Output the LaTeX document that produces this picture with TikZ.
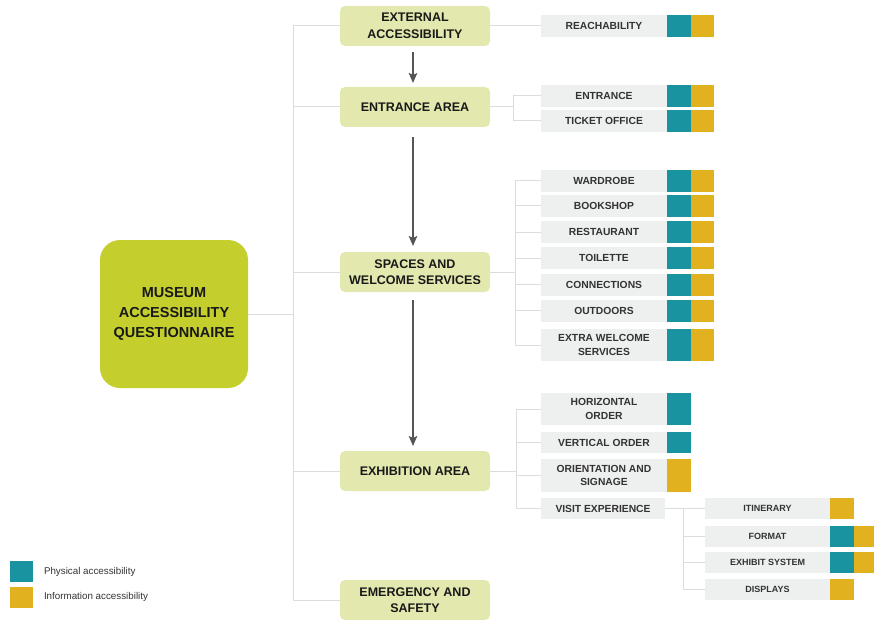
\documentclass[tikz,border=0pt]{standalone}
\usepackage{fontspec}
\setmainfont{Liberation Sans}
\usetikzlibrary{arrows.meta}
\definecolor{mainlime}{HTML}{C4CF2E}
\definecolor{lightlime}{HTML}{E3E9AE}
\definecolor{leafgrey}{HTML}{EEEFEF}
\definecolor{physc}{HTML}{1A93A0}
\definecolor{infoc}{HTML}{E2B11F}
\definecolor{linegrey}{HTML}{DCDCDC}
\definecolor{textgrey}{HTML}{333333}
\definecolor{arrowgrey}{HTML}{555555}
\begin{document}
\begin{tikzpicture}[x=1pt,y=-1pt,
  every node/.style={outer sep=0pt},
  mainbox/.style={fill=mainlime, rounded corners=20pt, minimum width=148pt, minimum height=148pt,
    inner sep=0pt, align=center, text=black!90, font=\fontsize{14.5}{20}\selectfont\bfseries},
  secbox/.style={fill=lightlime, rounded corners=5pt, minimum width=150pt, minimum height=40pt,
    inner sep=0pt, align=center, text=black!90, font=\fontsize{12.5}{16.5}\selectfont\bfseries},
  leaf/.style={fill=leafgrey, minimum width=126pt, inner sep=0pt, align=center, text=textgrey,
    font=\fontsize{10.3}{13.5}\selectfont\bfseries},
  subleaf/.style={fill=leafgrey, minimum width=125pt, inner sep=0pt, align=center, text=textgrey,
    font=\fontsize{9}{11}\selectfont\bfseries},
  physsq/.style={fill=physc, minimum width=23.5pt, inner sep=0pt, anchor=north west},
  infosq/.style={fill=infoc, minimum width=23.5pt, inner sep=0pt, anchor=north west},
  conn/.style={draw=linegrey, line width=1pt},
  arr/.style={draw=arrowgrey, line width=1.8pt, -{Stealth[length=10pt,width=8.5pt,inset=2pt]}},
  legtext/.style={anchor=west, text=textgrey, font=\fontsize{9.8}{12}\selectfont, inner sep=0pt}
]
\path[use as bounding box] (0,0) rectangle (874,620);

% main and second level
\node[mainbox] (q) at (174,314) {MUSEUM\\ACCESSIBILITY\\QUESTIONNAIRE};
\node[secbox] (ext) at (415,26) {EXTERNAL\\ACCESSIBILITY};
\node[secbox] (ent) at (415,107) {ENTRANCE AREA};
\node[secbox] (spa) at (415,272) {SPACES AND\\WELCOME SERVICES};
\node[secbox] (exh) at (415,471) {EXHIBITION AREA};
\node[secbox] (eme) at (415,600) {EMERGENCY AND\\SAFETY};

% leaves
\node[leaf, minimum height=22pt] (reach) at (604,26) {REACHABILITY};
\node[leaf, minimum height=22pt] (entr) at (604,96) {ENTRANCE};
\node[leaf, minimum height=22pt] (tick) at (604,121) {TICKET OFFICE};
\node[leaf, minimum height=22pt] (ward) at (604,181) {WARDROBE};
\node[leaf, minimum height=22pt] (book) at (604,206) {BOOKSHOP};
\node[leaf, minimum height=22pt] (rest) at (604,232) {RESTAURANT};
\node[leaf, minimum height=22pt] (toil) at (604,258) {TOILETTE};
\node[leaf, minimum height=22pt] (conx) at (604,284.5) {CONNECTIONS};
\node[leaf, minimum height=22pt] (outd) at (604,310.5) {OUTDOORS};
\node[leaf, minimum height=32pt] (extra) at (604,345) {EXTRA WELCOME\\SERVICES};
\node[leaf, minimum height=32pt] (hor) at (604,409) {HORIZONTAL\\ORDER};
\node[leaf, minimum height=21pt] (ver) at (604,442.5) {VERTICAL ORDER};
\node[leaf, minimum height=33pt] (ori) at (604,475.5) {ORIENTATION AND\\SIGNAGE};
\node[leaf, minimum height=21pt, minimum width=124pt] (visit) at (603,508.5) {VISIT EXPERIENCE};

\node[subleaf, minimum height=21pt] (itin) at (767.5,508.5) {ITINERARY};
\node[subleaf, minimum height=21pt] (form) at (767.5,536) {FORMAT};
\node[subleaf, minimum height=21pt] (exhs) at (767.5,562.5) {EXHIBIT SYSTEM};
\node[subleaf, minimum height=21pt] (disp) at (767.5,589.5) {DISPLAYS};

% colour squares
\foreach \n/\h in {reach/22,entr/22,tick/22,ward/22,book/22,rest/22,toil/22,conx/22,outd/22,extra/32}{
  \node[physsq, minimum height=\h pt] (\n-p) at (\n.north east) {};
  \node[infosq, minimum height=\h pt] (\n-i) at (\n-p.north east) {};
}
\node[physsq, minimum height=32pt] (hor-p) at (hor.north east) {};
\node[physsq, minimum height=21pt] (ver-p) at (ver.north east) {};
\node[infosq, minimum height=33pt] (ori-i) at (ori.north east) {};
\node[infosq, minimum height=21pt] (itin-i) at (itin.north east) {};
\node[physsq, minimum height=21pt] (form-p) at (form.north east) {};
\node[infosq, minimum height=21pt] (form-i) at (form-p.north east) {};
\node[physsq, minimum height=21pt] (exhs-p) at (exhs.north east) {};
\node[infosq, minimum height=21pt] (exhs-i) at (exhs-p.north east) {};
\node[infosq, minimum height=21pt] (disp-i) at (disp.north east) {};

% trunk
\coordinate (tr) at (293,0);
\draw[conn] (q.east) -- (q.east -| tr);
\draw[conn] (ext.west) -- (ext.west -| tr) -- (eme.west -| tr) -- (eme.west);
\draw[conn] (ent.west) -- (ent.west -| tr);
\draw[conn] (spa.west) -- (spa.west -| tr);
\draw[conn] (exh.west) -- (exh.west -| tr);

% external
\draw[conn] (ext.east) -- (reach.west);

% entrance bracket
\coordinate (b1) at (513,0);
\draw[conn] (ent.east) -- (ent.east -| b1);
\draw[conn] (entr.west) -- (entr.west -| b1) -- (tick.west -| b1) -- (tick.west);

% spaces bracket
\coordinate (b2) at (515,0);
\draw[conn] (spa.east) -- (spa.east -| b2);
\draw[conn] (ward.west) -- (ward.west -| b2) -- (extra.west -| b2) -- (extra.west);
\foreach \n in {book,rest,toil,conx,outd}{\draw[conn] (\n.west) -- (\n.west -| b2);}

% exhibition bracket
\coordinate (b3) at (516,0);
\draw[conn] (exh.east) -- (exh.east -| b3);
\draw[conn] (hor.west) -- (hor.west -| b3) -- (visit.west -| b3) -- (visit.west);
\foreach \n in {ver,ori}{\draw[conn] (\n.west) -- (\n.west -| b3);}

% visit bracket
\coordinate (b4) at (683,0);
\draw[conn] (visit.east) -- (itin.west);
\draw[conn] (itin.west -| b4) -- (disp.west -| b4) -- (disp.west);
\foreach \n in {form,exhs}{\draw[conn] (\n.west) -- (\n.west -| b4);}

% arrows
\draw[arr, shorten <=6pt, shorten >=4pt] ([xshift=-2pt]ext.south) -- ([xshift=-2pt]ent.north);
\draw[arr, shorten <=10pt, shorten >=6pt] ([xshift=-2pt]ent.south) -- ([xshift=-2pt]spa.north);
\draw[arr, shorten <=8pt, shorten >=5pt] ([xshift=-2pt]spa.south) -- ([xshift=-2pt]exh.north);

% legend
\node[physsq, minimum width=23pt, minimum height=21pt] (lgp) at (10,561) {};
\node[infosq, minimum width=23pt, minimum height=21pt] (lgi) at (10,586.5) {};
\node[legtext] (lgpt) at ([xshift=11pt]lgp.east) {Physical accessibility};
\node[legtext] (lgit) at ([xshift=11pt]lgi.east) {Information accessibility};
\end{tikzpicture}
\end{document}
